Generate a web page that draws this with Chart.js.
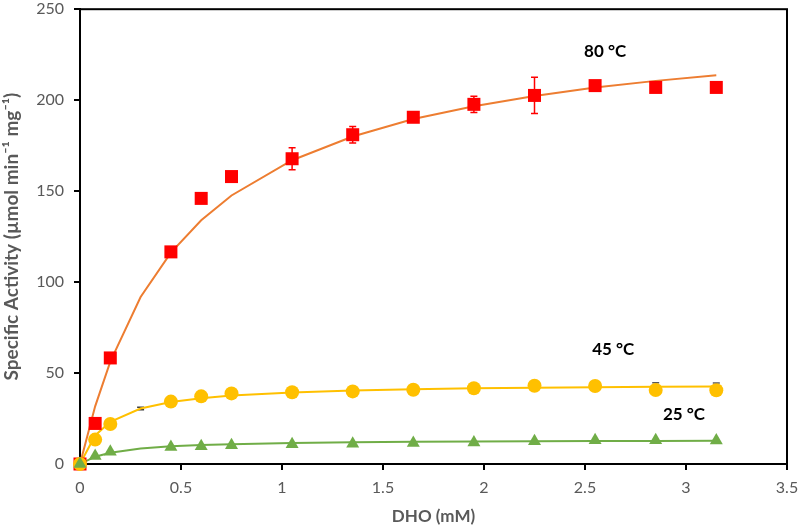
<!DOCTYPE html>
<html><head><meta charset="utf-8">
<script src="https://cdn.jsdelivr.net/npm/chart.js@4"></script>
<style>html,body{margin:0;padding:0;background:#fff}#wrap{width:800px;height:527px}</style>
</head><body><div id="wrap"><canvas id="c" width="800" height="527"></canvas></div>
<script>
// Measured points
const xMeas = [0, 0.075, 0.15, 0.45, 0.6, 0.75, 1.05, 1.35, 1.65, 1.95, 2.25, 2.55, 2.85, 3.15];
const act80 = [0, 22.3, 58.3, 116.6, 146, 158, 167.8, 181, 190.6, 197.7, 202.6, 208, 207, 207];
const err80 = [0, 0, 0, 0, 0, 0, 6, 4.5, 0, 4.5, 10, 2, 0, 0];
const act45 = [0, 13.4, 22, 34.3, 37.2, 38.8, 39.4, 39.9, 40.8, 41.6, 43, 42.9, 40.7, 40.5];
const err45Up = [0, 0, 0, 0, 0, 0, 0, 0, 0, 0, 0, 0, 3.9, 4.0];
const act25 = [0, 4.4, 6.7, 9.4, 9.8, 10.3, 10.9, 11.1, 11.6, 11.8, 12.5, 13, 13, 12.9];
// Fitted curve points
const xFit = [0, 0.075, 0.15, 0.3, 0.45, 0.6, 0.75, 1.05, 1.35, 1.65, 1.95, 2.25, 2.55, 2.85, 3.15];
const fit80 = [0, 31.7, 56.3, 91.8, 116.2, 134, 147.6, 167, 180, 189.6, 196.7, 202.3, 206.9, 210.6, 213.7];
const fit45 = [0, 15.7, 23.2, 30.5, 34.1, 36.2, 37.6, 39.3, 40.4, 41.1, 41.6, 41.9, 42.2, 42.4, 42.6];
const fit25 = [0, 4.0, 6.2, 8.5, 9.7, 10.4, 10.9, 11.6, 11.9, 12.2, 12.4, 12.5, 12.6, 12.7, 12.8];
// lone error bar of 45 °C at 0.3 mM
const xExtra45 = [0.3];
const actExtra45 = [30.5];
const errExtra45 = [0.7];
// Text
const xTitle = 'DHO (mM)';
const yTitle = 'Specific Activity (µmol min⁻¹ mg⁻¹)';
const seriesLabels = ['80 °C', '45 °C', '25 °C'];
const labelPos = [[2.6, 227], [2.64, 63], [2.99, 27]];

const pts = (xs, ys) => xs.map((x, i) => ({x, y: ys[i]}));
const FONT = 'Lato, "Open Sans", sans-serif';

const errorBars = {
  id: 'errorBars',
  beforeDatasetsDraw(chart) {
    const {ctx, scales: {x, y}} = chart;
    // [x, y, upper error, lower error, colour]
    const sets = [
      [xMeas, act80, err80, err80, '#FF0000'],
      [xMeas, act45, err45Up, err45Up.map(() => 0), '#595959'],
      [xExtra45, actExtra45, errExtra45, errExtra45, '#404040']
    ];
    ctx.save();
    sets.forEach(([xs, ys, up, lo, col]) => {
      xs.forEach((xv, i) => {
        if (!up[i] && !lo[i]) return;
        const px = x.getPixelForValue(xv);
        const t = y.getPixelForValue(ys[i] + up[i]), b = y.getPixelForValue(ys[i] - lo[i]);
        ctx.strokeStyle = col; ctx.lineWidth = 1.5;
        ctx.beginPath();
        ctx.moveTo(px, t); ctx.lineTo(px, b);
        if (up[i]) { ctx.moveTo(px - 3.5, t); ctx.lineTo(px + 3.5, t); }
        if (lo[i]) { ctx.moveTo(px - 3.5, b); ctx.lineTo(px + 3.5, b); }
        ctx.stroke();
      });
    });
    ctx.restore();
  }
};
const frame = {
  id: 'frame',
  beforeDatasetsDraw(chart) {
    const {ctx, chartArea: a} = chart;
    ctx.save();
    ctx.strokeStyle = '#000'; ctx.lineWidth = 2;
    ctx.strokeRect(a.left, a.top, a.right - a.left, a.bottom - a.top);
    ctx.restore();
  },
  afterDraw(chart) {
    const {ctx, scales: {x, y}} = chart;
    ctx.save();
    ctx.font = 'bold 17px ' + FONT; ctx.fillStyle = '#000';
    ctx.textAlign = 'center'; ctx.textBaseline = 'middle';
    seriesLabels.forEach((t, i) => ctx.fillText(t, x.getPixelForValue(labelPos[i][0]), y.getPixelForValue(labelPos[i][1])));
    ctx.restore();
  }
};

new Chart(document.getElementById('c'), {
  type: 'scatter',
  data: {
    datasets: [
      {data: pts(xMeas, act25), pointStyle: 'triangle', pointRadius: 7.5, backgroundColor: '#70AD47', borderColor: '#70AD47', borderWidth: 0, showLine: false, order: 1, clip: false},
      {data: pts(xMeas, act45), pointStyle: 'circle', pointRadius: 7, backgroundColor: '#FFC000', borderColor: '#FFC000', borderWidth: 0, showLine: false, order: 1, clip: false},
      {data: pts(xMeas, act80), pointStyle: 'rect', pointRadius: 9.2, backgroundColor: '#FF0000', borderColor: '#FF0000', borderWidth: 0, showLine: false, order: 1, clip: false},
      {data: pts(xFit, fit80), showLine: true, pointRadius: 0, borderColor: '#ED7D31', borderWidth: 2, order: 2},
      {data: pts(xFit, fit45), showLine: true, pointRadius: 0, borderColor: '#FFC000', borderWidth: 2, order: 2},
      {data: pts(xFit, fit25), showLine: true, pointRadius: 0, borderColor: '#70AD47', borderWidth: 2, order: 2}
    ]
  },
  options: {
    responsive: false, animation: false,
    layout: {padding: {top: 5, right: 13, left: 0, bottom: 0}},
    plugins: {legend: {display: false}, tooltip: {enabled: false}},
    scales: {
      x: {
        type: 'linear', min: 0, max: 3.5,
        ticks: {stepSize: 0.5, color: '#595959', font: {family: FONT, size: 16}, padding: 8,
                callback: v => String(Math.round(v * 10) / 10)},
        grid: {drawOnChartArea: false, drawTicks: true, tickLength: 6, color: '#000', lineWidth: 2},
        border: {color: '#000', width: 2},
        title: {display: true, text: xTitle, color: '#595959', font: {family: FONT, size: 17, weight: 'bold'}, padding: {top: 0, bottom: 0}},
        afterFit(s) { s.height = 63; s.paddingLeft = 0; s.paddingRight = 0; }
      },
      y: {
        min: 0, max: 250,
        ticks: {stepSize: 50, color: '#595959', font: {family: FONT, size: 16}, padding: 10},
        grid: {drawOnChartArea: false, drawTicks: true, tickLength: 6, color: '#000', lineWidth: 2},
        border: {color: '#000', width: 2},
        title: {display: true, text: yTitle, color: '#595959', font: {family: FONT, size: 19, weight: 'bold'}, padding: {top: 0, bottom: 4}},
        afterFit(s) { s.width = 80; s.paddingTop = 0; s.paddingBottom = 0; }
      }
    }
  },
  plugins: [errorBars, frame]
});
</script></body></html>
